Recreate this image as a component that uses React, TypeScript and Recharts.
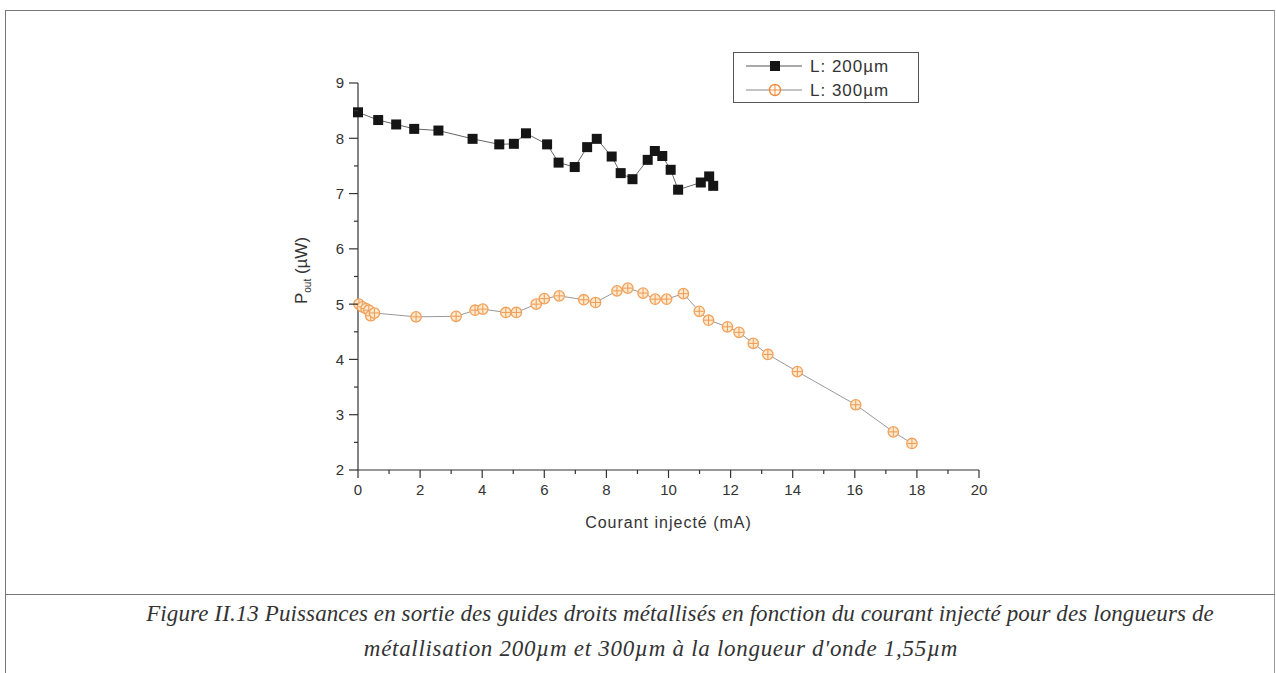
import React from "react";
import { LineChart, Line, XAxis, YAxis, Legend, Label } from "recharts";

// L = 200 µm (black squares)
const current200 = [0, 0.65, 1.23, 1.81, 2.59, 3.69, 4.55, 5.02, 5.41, 6.09, 6.46, 6.98, 7.38, 7.69, 8.17, 8.46, 8.84, 9.33, 9.56, 9.8, 10.07, 10.31, 11.04, 11.31, 11.44];
const power200 = [8.47, 8.33, 8.25, 8.17, 8.14, 7.99, 7.89, 7.9, 8.09, 7.89, 7.56, 7.48, 7.84, 7.99, 7.67, 7.37, 7.26, 7.61, 7.77, 7.68, 7.43, 7.07, 7.2, 7.31, 7.14];

// L = 300 µm (orange circles)
const current300 = [0.03, 0.14, 0.26, 0.35, 0.41, 0.53, 1.87, 3.16, 3.77, 4.02, 4.76, 5.1, 5.74, 6.0, 6.48, 7.27, 7.65, 8.34, 8.69, 9.18, 9.57, 9.94, 10.48, 10.99, 11.29, 11.9, 12.27, 12.73, 13.2, 14.15, 16.03, 17.24, 17.84];
const power300 = [5.0, 4.95, 4.92, 4.89, 4.79, 4.84, 4.77, 4.78, 4.89, 4.91, 4.85, 4.85, 5.0, 5.1, 5.15, 5.08, 5.03, 5.24, 5.29, 5.2, 5.09, 5.09, 5.19, 4.87, 4.71, 4.59, 4.49, 4.29, 4.09, 3.78, 3.18, 2.69, 2.48];

const xTicks = Array.from({ length: 21 }, (_, i) => i); // 0..20, labels on even ones
const yTicks = [2, 2.5, 3, 3.5, 4, 4.5, 5, 5.5, 6, 6.5, 7, 7.5, 8, 8.5, 9];

const data200 = current200.map((x, i) => ({ x, y: power200[i] }));
const data300 = current300.map((x, i) => ({ x, y: power300[i] }));

const AXIS = "#333";
const TICK_FONT = "'Liberation Sans', Arial, sans-serif";

const SquareDot = (props: any) => {
  const { cx, cy } = props;
  if (cx == null || cy == null) return null;
  return <rect key={`s-${cx}-${cy}`} x={cx - 5} y={cy - 5} width={10} height={10} fill="#151515" />;
};

const CrossDot = (props: any) => {
  const { cx, cy } = props;
  if (cx == null || cy == null) return null;
  return (
    <g key={`c-${cx}-${cy}`}>
      <circle cx={cx} cy={cy} r={5.2} fill="#fde9cc" stroke="#f2a05a" strokeWidth={1.3} />
      <line x1={cx - 4.5} x2={cx + 4.5} y1={cy} y2={cy} stroke="#ef9a55" strokeWidth={1} />
      <line x1={cx} x2={cx} y1={cy - 4.5} y2={cy + 4.5} stroke="#ef9a55" strokeWidth={1} />
    </g>
  );
};

const XTick = (props: any) => {
  const { x, y, payload } = props;
  const v = payload.value;
  const major = v % 2 === 0;
  return (
    <g>
      <line x1={x} x2={x} y1={y} y2={y + (major ? 8 : 4)} stroke={AXIS} strokeWidth={1.2} />
      {major && (
        <text x={x} y={y + 14} dy="0.75em" textAnchor="middle" fontSize={15} fill="#333" fontFamily={TICK_FONT}>
          {v}
        </text>
      )}
    </g>
  );
};

const YTick = (props: any) => {
  const { x, y, payload } = props;
  const v = payload.value;
  const major = Number.isInteger(v);
  return (
    <g>
      <line x1={x - (major ? 9 : 4)} x2={x} y1={y} y2={y} stroke={AXIS} strokeWidth={1.2} />
      {major && (
        <text x={x - 14} y={y} dy="0.36em" textAnchor="end" fontSize={15} fill="#333" fontFamily={TICK_FONT}>
          {v}
        </text>
      )}
    </g>
  );
};

const YTitle = (props: any) => {
  const vb = props.viewBox || { x: 298, y: 83, width: 60, height: 387 };
  const cx = vb.x + 9;
  const cy = vb.y + vb.height / 2 - 6;
  return (
    <text
      transform={`translate(${cx},${cy}) rotate(-90)`}
      textAnchor="middle"
      fontSize={17}
      fill="#333"
      fontFamily={TICK_FONT}
    >
      <tspan>P</tspan>
      <tspan fontSize={10} dy={4}>out</tspan>
      <tspan dy={-4}> (µW)</tspan>
    </text>
  );
};

const LegendBox = () => (
  <div
    style={{
      width: 186,
      height: 51,
      border: "1px solid #555",
      boxSizing: "border-box",
      background: "#fff",
      fontFamily: TICK_FONT,
    }}
  >
    <svg width={186} height={51}>
      <line x1={12} x2={68} y1={13} y2={13} stroke="#555" strokeWidth={1} />
      <rect x={36} y={8} width={10} height={10} fill="#151515" />
      <text x={76} y={13} dy="0.36em" fontSize={17} fill="#333" letterSpacing={1}>L: 200µm</text>
      <line x1={12} x2={68} y1={37} y2={37} stroke="#888" strokeWidth={1} />
      <circle cx={41} cy={37} r={5.5} fill="#fff" stroke="#ef8a3c" strokeWidth={1.4} />
      <line x1={36} x2={46} y1={37} y2={37} stroke="#ef8a3c" strokeWidth={1} />
      <line x1={41} x2={41} y1={32} y2={42} stroke="#ef8a3c" strokeWidth={1} />
      <text x={76} y={37} dy="0.36em" fontSize={17} fill="#333" letterSpacing={1}>L: 300µm</text>
    </svg>
  </div>
);

const captionStyle: React.CSSProperties = {
  position: "absolute",
  width: 1270,
  textAlign: "center",
  fontFamily: "'Liberation Serif', 'Times New Roman', serif",
  fontStyle: "italic",
  fontSize: 23,
  color: "#333",
  lineHeight: "35px",
  whiteSpace: "nowrap",
};

export default function App() {
  return (
    <div
      style={{
        position: "absolute",
        left: 0,
        top: 0,
        width: 1276,
        height: 673,
        background: "#fff",
        overflow: "hidden",
      }}
    >
      {/* page frame */}
      <div
        style={{
          position: "absolute",
          left: 5,
          top: 10,
          width: 1268,
          height: 680,
          borderTop: "1.5px solid #777",
          borderLeft: "1.5px solid #777",
          borderRight: "1.5px solid #999",
        }}
      />
      <div style={{ position: "absolute", left: 5, top: 594, width: 1270, borderTop: "1.5px solid #777" }} />

      <div style={{ position: "absolute", left: 0, top: 0 }}>
        <LineChart width={1276} height={595} margin={{ top: 83, right: 297, bottom: 65, left: 298 }}>
          <XAxis
            dataKey="x"
            type="number"
            domain={[0, 20]}
            ticks={xTicks}
            interval={0}
            height={60}
            stroke={AXIS}
            strokeWidth={1.2}
            tickLine={false}
            tickSize={0}
            tickMargin={0}
            tick={<XTick />}
            allowDuplicatedCategory={false}
          >
            <Label
              value="Courant injecté (mA)"
              position="insideBottom"
              offset={2}
              style={{ fontSize: 16, fill: "#333", fontFamily: TICK_FONT, letterSpacing: 1 }}
            />
          </XAxis>
          <YAxis
            dataKey="y"
            type="number"
            domain={[2, 9]}
            ticks={yTicks}
            interval={0}
            width={60}
            stroke={AXIS}
            strokeWidth={1.2}
            tickLine={false}
            tickSize={0}
            tickMargin={0}
            tick={<YTick />}
          >
            <Label content={<YTitle />} />
          </YAxis>
          <Legend
            verticalAlign="middle"
            align="center"
            layout="horizontal"
            content={() => <LegendBox />}
            wrapperStyle={{ left: 733, top: 52, width: 186, height: 51 }}
          />
          <Line
            data={data200}
            dataKey="y"
            name="L: 200µm"
            stroke="#666"
            strokeWidth={1}
            dot={SquareDot}
            activeDot={false}
            isAnimationActive={false}
          />
          <Line
            data={data300}
            dataKey="y"
            name="L: 300µm"
            stroke="#999"
            strokeWidth={1}
            dot={CrossDot}
            activeDot={false}
            isAnimationActive={false}
          />
        </LineChart>
      </div>

      <div style={{ ...captionStyle, left: 45, top: 596, letterSpacing: 0.1 }}>
        Figure II.13 Puissances en sortie des guides droits métallisés en fonction du courant injecté pour des longueurs de
      </div>
      <div style={{ ...captionStyle, left: 26, top: 631, letterSpacing: 0.7 }}>
        métallisation 200µm et 300µm à la longueur d'onde 1,55µm
      </div>
    </div>
  );
}
